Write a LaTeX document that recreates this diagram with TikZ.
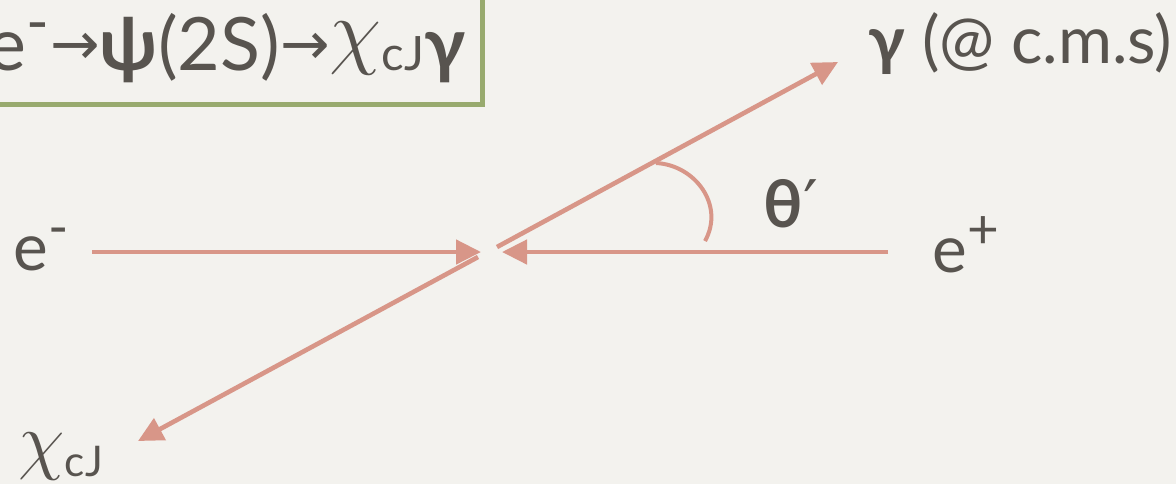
\documentclass[tikz,border=0pt]{standalone}
\usepackage{fontspec}
\setmainfont{Lato}
\newfontfamily\symfont{DejaVu Sans}
\usepackage{xcolor}
\usepackage{graphicx}
\usetikzlibrary{arrows.meta,positioning}
\definecolor{salmon}{RGB}{216,150,136}
\definecolor{ink}{RGB}{88,84,79}
\definecolor{frame}{RGB}{152,170,110}
\definecolor{paper}{RGB}{243,242,238}
\newcommand{\chicj}{\raisebox{4pt}{\scalebox{1.15}{$\chi$}}{\fontsize{16}{18}\selectfont cJ}}
\newcommand{\toarrow}{{\symfont\fontsize{20}{24}\selectfont\raisebox{2pt}{→}}}

\begin{document}
\begin{tikzpicture}[x=0.5pt, y=-0.5pt,
    label/.style={text=ink, font=\fontsize{24.88}{30}\selectfont, inner sep=0pt},
    titletext/.style={label, font=\fontsize{24.88}{30}\selectfont},
    titlebox/.style={draw=frame, line width=2.5pt},
    ray/.style={draw=salmon, line width=2.3pt, -{Triangle[length=12.5pt, width=12pt]}},
    angle/.style={draw=salmon, line width=2pt}]
  \clip (0,0) rectangle (1176,484);
  \fill[paper] (0,0) rectangle (1176,484);
  \draw[titlebox] (-300,-100) rectangle (482,104);
  \node[titletext, anchor=base east, scale=1.48] (title) at (466,70)
    {e\textsuperscript{+}e\textsuperscript{-}\toarrow\textbf{ψ}(2S)\toarrow\chicj\textbf{γ}};
  \node[label, anchor=base west, scale=1.32] (em) at (13,270) {e\textsuperscript{-}};
  \node[label, anchor=base west, scale=1.32] (ep) at (932,272) {e\textsuperscript{+}};
  \node[label, anchor=base west, scale=1.32] (gam) at (868,63) {\textbf{γ} (@ c.m.s)};
  \node[label, anchor=base west, scale=1.32] (chi) at (18,476) {\chicj};
  \node[label, anchor=base west, scale=1.32] (theta) at (763,227) {\textbf{θ}{\symfont′}};
  \coordinate (emstart) at (92,252);
  \coordinate (emtip) at (481,252);
  \coordinate (epstart) at (888,252);
  \coordinate (eptip) at (502,252);
  \coordinate (gstart) at (497,247);
  \coordinate (gtip) at (838,62);
  \coordinate (cstart) at (478,257);
  \coordinate (ctip) at (138,441);
  \draw[ray] (emstart) -- (emtip);
  \draw[ray] (epstart) -- (eptip);
  \draw[ray] (gstart) -- (gtip);
  \draw[ray] (cstart) -- (ctip);
  \draw[angle] (656,163) .. controls (695,165) and (725,205) .. (705,241);
\end{tikzpicture}
\end{document}
